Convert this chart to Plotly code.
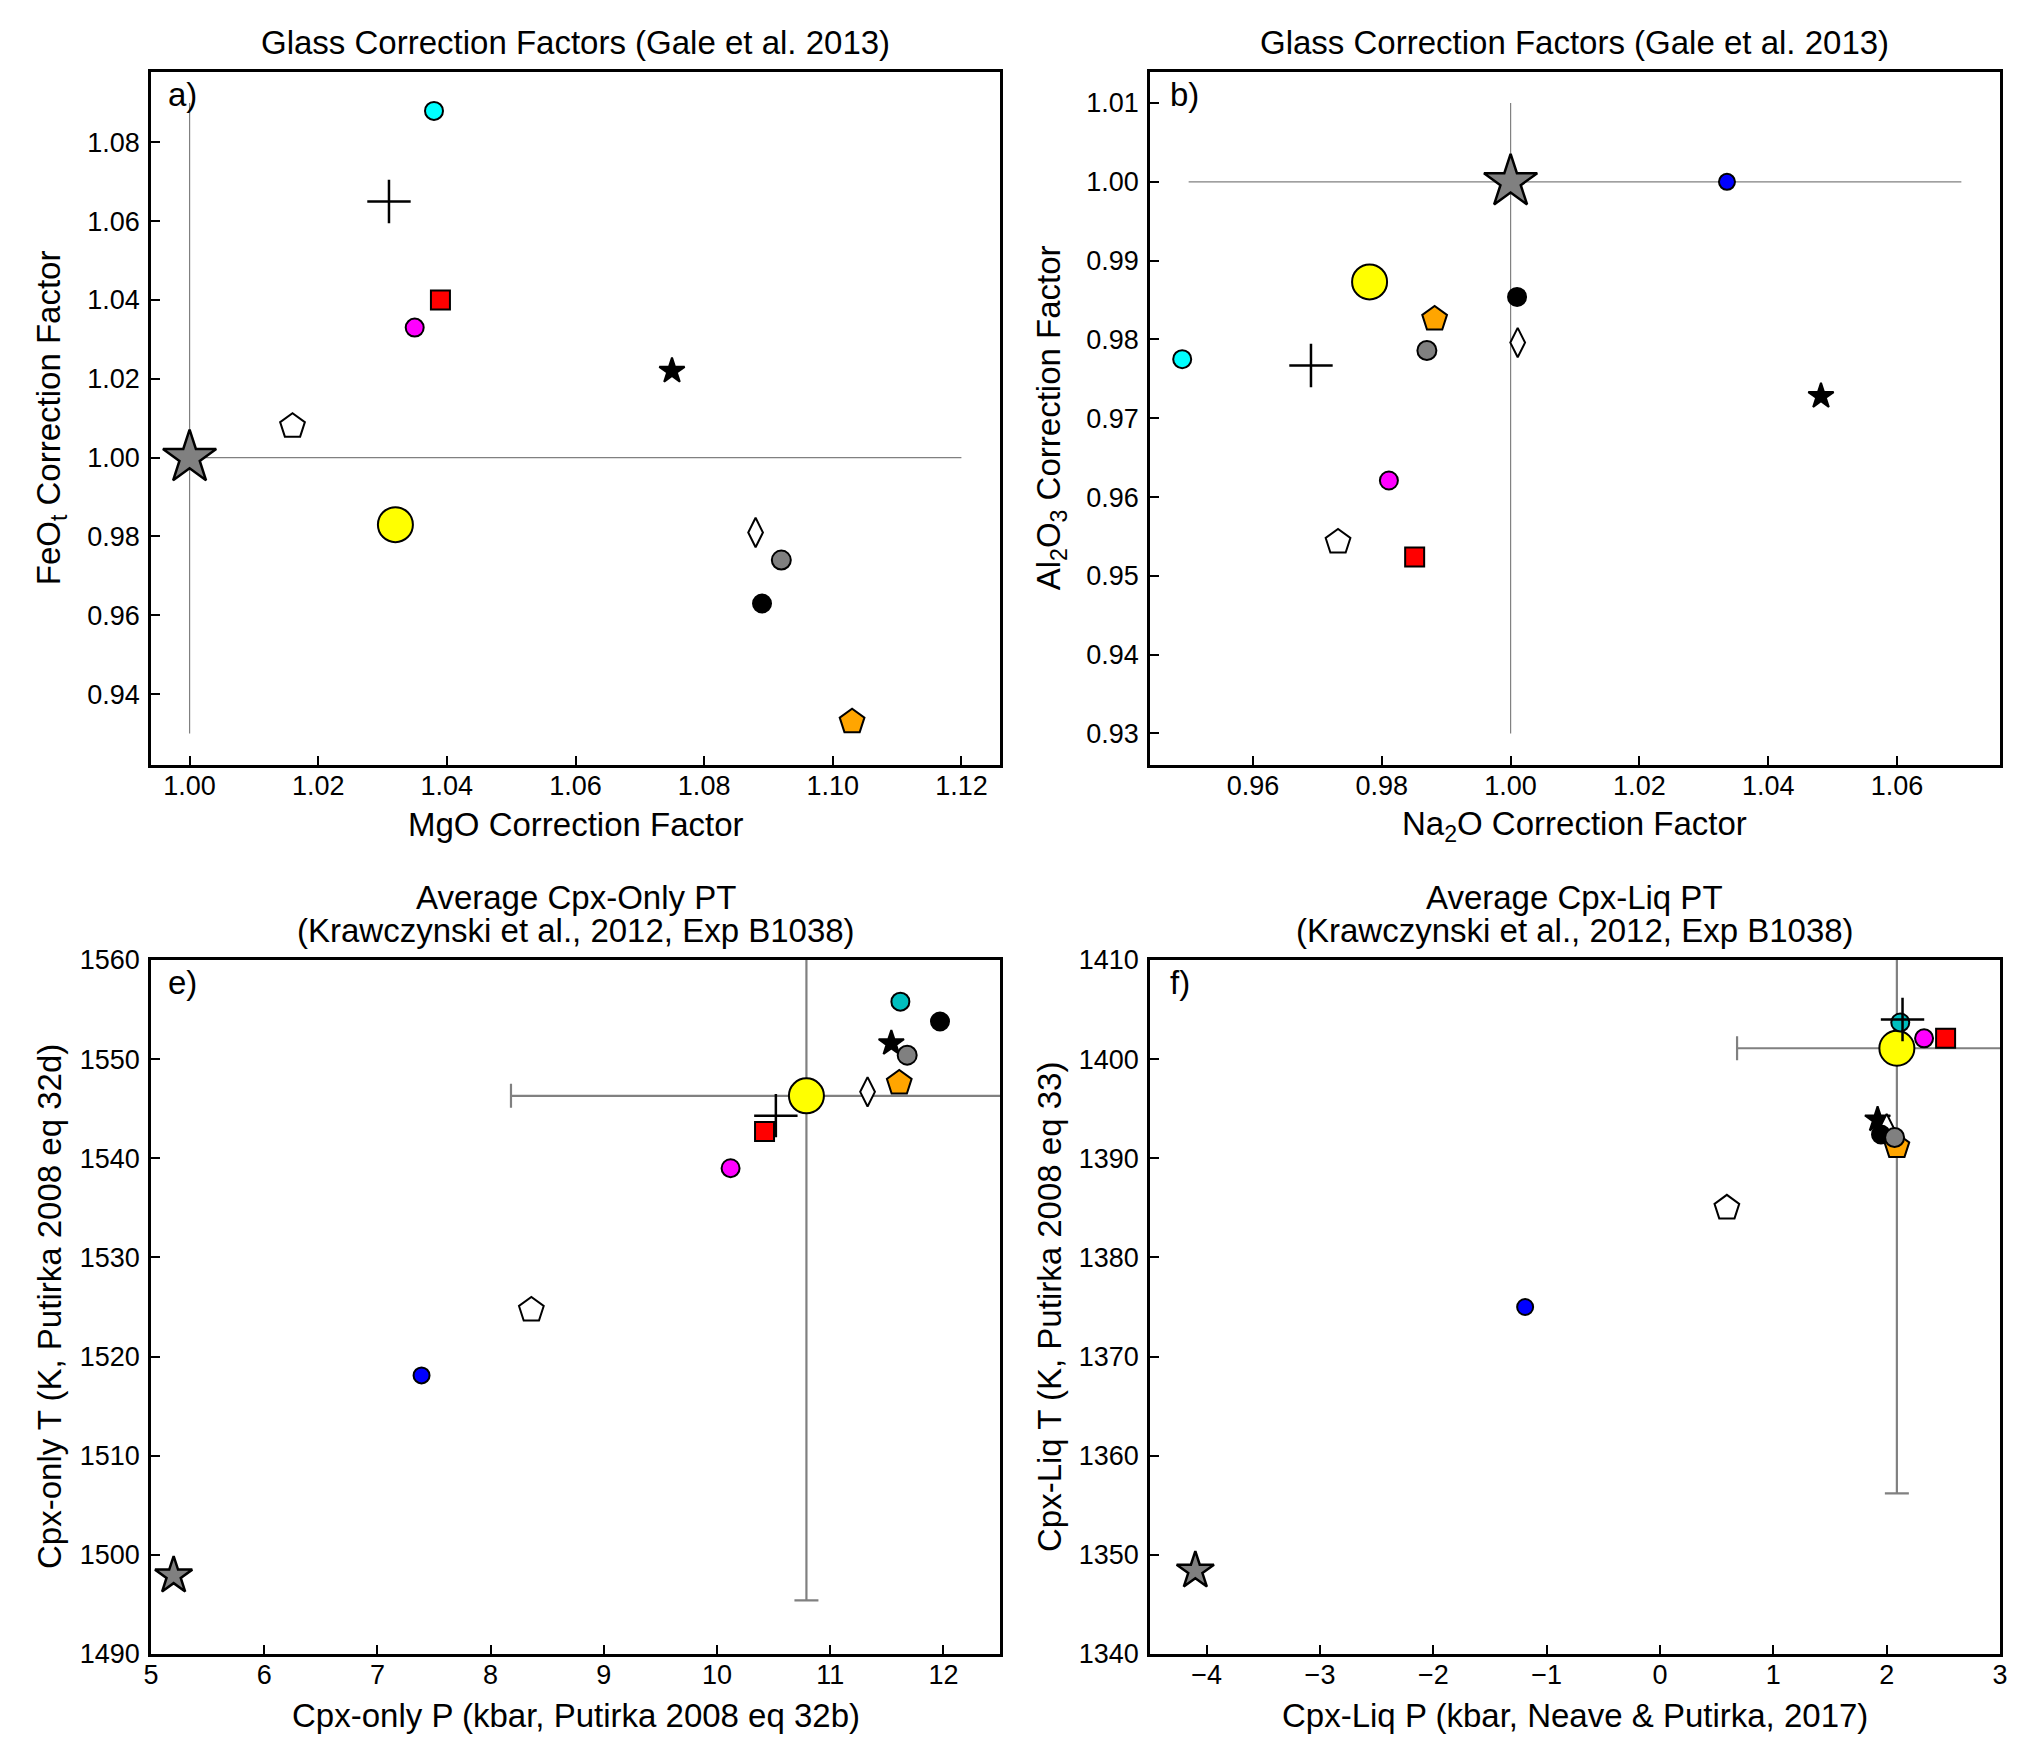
import plotly.graph_objects as go

# ---------------- data ----------------
series_names = ["blue", "reference", "white_pentagon", "black_star", "white_diamond",
                "black_circle", "orange_pentagon", "gray_circle", "yellow", "cyan",
                "magenta", "red_square", "plus"]

# Panel a: MgO / FeOt correction factors
a_mgo = [1.000, 1.000, 1.016, 1.075, 1.088, 1.089, 1.103, 1.092, 1.032, 1.038, 1.035, 1.039, 1.031]
a_feo = [1.000, 1.000, 1.008, 1.022, 0.981, 0.963, 0.933, 0.974, 0.983, 1.088, 1.033, 1.040, 1.065]

# Panel b: Na2O / Al2O3 correction factors
b_na2o = [1.0336, 1.000, 0.9732, 1.0482, 1.0011, 1.0010, 0.9882, 0.9870, 0.9781, 0.9490, 0.9811, 0.9851, 0.9690]
b_al2o3 = [1.0000, 1.000, 0.9543, 0.9728, 0.9796, 0.9854, 0.9826, 0.9786, 0.9873, 0.9775, 0.9621, 0.9524, 0.9767]

# Panel e: Cpx-only P (kbar) / T (K)
e_p = [7.39, 5.20, 8.36, 11.54, 11.33, 11.97, 11.61, 11.68, 10.79, 11.62, 10.12, 10.42, 10.52]
e_t = [1518.1, 1497.9, 1524.7, 1551.6, 1546.7, 1553.8, 1547.6, 1550.4, 1546.3, 1555.8, 1539.0, 1542.7, 1544.3]

# Panel f: Cpx-Liq P (kbar) / T (K)
f_p = [-1.19, -4.10, 0.59, 1.92, 2.00, 1.95, 2.09, 2.07, 2.09, 2.12, 2.33, 2.52, 2.14]
f_t = [1375.0, 1348.4, 1385.0, 1393.9, 1393.0, 1392.4, 1391.2, 1392.1, 1401.1, 1403.7, 1402.1, 1402.1, 1404.0]

# experimental values with uncertainty (error bars)
e_exp_p, e_exp_t, e_exp_perr, e_exp_terr = [10.79], [1546.3], [2.61], [50.9]
f_exp_p, f_exp_t, f_exp_perr, f_exp_terr = [2.09], [1401.1], [1.41], [44.9]

# reference lines (panels a, b)
a_vline_x, a_vline_y = [1.0, 1.0], [0.93, 1.09]
a_hline_x, a_hline_y = [1.0, 1.12], [1.0, 1.0]
b_hline_x, b_hline_y = [0.95, 1.07], [1.0, 1.0]
b_vline_x, b_vline_y = [1.0, 1.0], [0.93, 1.01]

# ---------------- styles ----------------
symbols = ["circle", "star", "pentagon", "star", "diamond-tall", "circle", "pentagon",
           "circle", "circle", "circle", "circle", "square", "cross-thin"]
colors_top = ["#0000FF", "#808080", "#FFFFFF", "#000000", "#FFFFFF", "#000000", "#FFA500",
              "#808080", "#FFFF00", "#00FFFF", "#FF00FF", "#FF0000", "#000000"]
colors_bot = list(colors_top)
colors_bot[9] = "#00BFBF"
sizes_top = [16, 40, 26, 19, 21, 18, 26, 19, 35, 18, 18, 19, 31]
sizes_bot = list(sizes_top)
sizes_bot[1] = 28

FONT = "Liberation Sans, Arial, Helvetica, sans-serif"

fig = go.Figure()


def add_points(xs, ys, xa, ya, colors, sizes):
    for i, name in enumerate(series_names):
        lw = 2.5 if symbols[i] == "cross-thin" else 2
        if name == "reference":
            lw = 2.5
        fig.add_trace(go.Scatter(
            x=[xs[i]], y=[ys[i]], mode="markers", name=name, showlegend=False,
            xaxis=xa, yaxis=ya,
            marker=dict(symbol=symbols[i], color=colors[i], size=sizes[i],
                        line=dict(color="#000000", width=lw)),
        ))


def add_line(xs, ys, xa, ya):
    fig.add_trace(go.Scatter(x=xs, y=ys, mode="lines", showlegend=False,
                             xaxis=xa, yaxis=ya,
                             line=dict(color="#808080", width=1.2)))


# panel a
add_line(a_vline_x, a_vline_y, "x", "y")
add_line(a_hline_x, a_hline_y, "x", "y")
add_points(a_mgo, a_feo, "x", "y", colors_top, sizes_top)

# panel b
add_line(b_hline_x, b_hline_y, "x2", "y2")
add_line(b_vline_x, b_vline_y, "x2", "y2")
add_points(b_na2o, b_al2o3, "x2", "y2", colors_top, sizes_top)


def add_err(xs, ys, xe, ye, xa, ya):
    fig.add_trace(go.Scatter(
        x=xs, y=ys, mode="markers", showlegend=False, xaxis=xa, yaxis=ya,
        marker=dict(size=1, color="rgba(0,0,0,0)"),
        error_x=dict(type="data", array=xe, color="#808080", thickness=2.2, width=12),
        error_y=dict(type="data", array=ye, color="#808080", thickness=2.2, width=12),
    ))


# panel e
add_err(e_exp_p, e_exp_t, e_exp_perr, e_exp_terr, "x3", "y3")
add_points(e_p, e_t, "x3", "y3", colors_bot, sizes_bot)

# panel f
add_err(f_exp_p, f_exp_t, f_exp_perr, f_exp_terr, "x4", "y4")
add_points(f_p, f_t, "x4", "y4", colors_bot, sizes_bot)

# ---------------- layout ----------------
W, H = 2039, 1760
xa_dom = [151 / W, 1000 / W]
xb_dom = [1150 / W, 2000 / W]
yt_dom = [1 - 765 / H, 1 - 71.5 / H]
yb_dom = [1 - 1654 / H, 1 - 960 / H]

common = dict(showline=True, mirror=True, linecolor="#000000", linewidth=2.5,
              ticks="inside", ticklen=9, tickwidth=2, tickcolor="#000000",
              showgrid=False, zeroline=False, automargin=False,
              tickfont=dict(family=FONT, size=27, color="#000000"))
xcommon = dict(ticklabelstandoff=-5, **common)
ycommon = dict(ticklabelstandoff=3, **common)

fig.update_layout(
    width=W, height=H, autosize=False,
    margin=dict(l=0, r=0, t=0, b=0, pad=0, autoexpand=False),
    paper_bgcolor="white", plot_bgcolor="white",
    font=dict(family=FONT, color="#000000"),
    xaxis=dict(domain=xa_dom, anchor="y", range=[0.994, 1.126], dtick=0.02, tick0=0,
               tickformat=".2f", **xcommon),
    yaxis=dict(domain=yt_dom, anchor="x", range=[0.922, 1.098], dtick=0.02, tick0=0,
               tickformat=".2f", **ycommon),
    xaxis2=dict(domain=xb_dom, anchor="y2", range=[0.944, 1.076], dtick=0.02, tick0=0,
                tickformat=".2f", **xcommon),
    yaxis2=dict(domain=yt_dom, anchor="x2", range=[0.926, 1.014], dtick=0.01, tick0=0,
                tickformat=".2f", **ycommon),
    xaxis3=dict(domain=xa_dom, anchor="y3", range=[5, 12.5], dtick=1, tick0=0, **xcommon),
    yaxis3=dict(domain=yb_dom, anchor="x3", range=[1490, 1560], dtick=10, tick0=0, **ycommon),
    xaxis4=dict(domain=xb_dom, anchor="y4", range=[-4.5, 3], dtick=1, tick0=0, **xcommon),
    yaxis4=dict(domain=yb_dom, anchor="x4", range=[1340, 1410], dtick=10, tick0=0, **ycommon),
)

TF = dict(family=FONT, size=33, color="#000000")
ann = []


def text(x, y, s, angle=0, xanchor="center", yanchor="middle"):
    ann.append(dict(x=x, y=y, xref="paper", yref="paper", text=s, showarrow=False,
                    font=TF, textangle=angle, xanchor=xanchor, yanchor=yanchor))


cxa = (xa_dom[0] + xa_dom[1]) / 2
cxb = (xb_dom[0] + xb_dom[1]) / 2
cyt = (yt_dom[0] + yt_dom[1]) / 2
cyb = (yb_dom[0] + yb_dom[1]) / 2

# titles
text(cxa, 1 - 43 / H, "Glass Correction Factors (Gale et al. 2013)")
text(cxb, 1 - 43 / H, "Glass Correction Factors (Gale et al. 2013)")
text(cxa, 1 - 897 / H, "Average Cpx-Only PT")
text(cxa, 1 - 931 / H, "(Krawczynski et al., 2012, Exp B1038)")
text(cxb, 1 - 897 / H, "Average Cpx-Liq PT")
text(cxb, 1 - 931 / H, "(Krawczynski et al., 2012, Exp B1038)")

# axis labels
text(cxa, 1 - 824 / H, "MgO Correction Factor")
text(cxb, 1 - 826 / H, "Na<sub>2</sub>O Correction Factor")
text(cxa, 1 - 1715 / H, "Cpx-only P (kbar, Putirka 2008 eq 32b)")
text(cxb, 1 - 1715 / H, "Cpx-Liq P (kbar, Neave & Putirka, 2017)")
text(51 / W, cyt, "FeO<sub>t</sub> Correction Factor", angle=-90)
text(1051 / W, cyt, "Al<sub>2</sub>O<sub>3</sub> Correction Factor", angle=-90)
text(49 / W, cyb, "Cpx-only T (K, Putirka 2008 eq 32d)", angle=-90)
text(1049 / W, cyb, "Cpx-Liq T (K, Putirka 2008 eq 33)", angle=-90)

# panel letters
text(166 / W, 1 - 94 / H, "a)", xanchor="left")
text(1168 / W, 1 - 94 / H, "b)", xanchor="left")
text(166 / W, 1 - 983 / H, "e)", xanchor="left")
text(1168 / W, 1 - 983 / H, "f)", xanchor="left")

fig.update_layout(annotations=ann)

fig.write_html("out.html")
